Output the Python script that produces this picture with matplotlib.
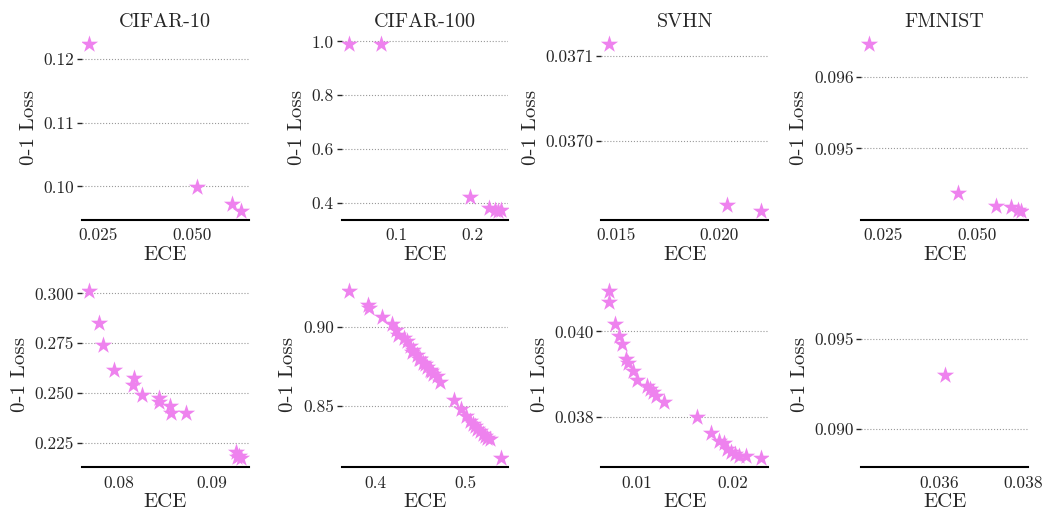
import matplotlib
matplotlib.use("Agg")
from matplotlib import pyplot as plt

plt.rcParams['font.family'] = 'cmr10'
plt.rcParams['mathtext.fontset'] = 'cm'
plt.rcParams['axes.formatter.use_mathtext'] = True

titles = ['CIFAR-10', 'CIFAR-100', 'SVHN', 'FMNIST']

# top row
c10_ece = [0.0228, 0.0514, 0.0606, 0.0629]
c10_loss = [0.1224, 0.0999, 0.0972, 0.0961]
c100_ece = [0.0379, 0.0798, 0.197, 0.222, 0.233, 0.237, 0.229]
c100_loss = [0.992, 0.992, 0.421, 0.381, 0.369, 0.372, 0.375]
svhn_ece = [0.01464, 0.02039, 0.02203]
svhn_loss = [0.037114, 0.036925, 0.036918]
fm_ece = [0.0211, 0.0450, 0.0553, 0.0593, 0.0611, 0.0618]
fm_loss = [0.09647, 0.09438, 0.09419, 0.09418, 0.09414, 0.09412]

# bottom row
c10b_ece = [0.0768, 0.0778, 0.0783, 0.0795, 0.0816, 0.0815, 0.0825, 0.0843, 0.0843,
            0.0855, 0.0856, 0.0872, 0.0926, 0.0929, 0.0931, 0.0927]
c10b_loss = [0.3013, 0.2850, 0.2738, 0.2613, 0.2575, 0.2537, 0.2487, 0.2475, 0.2453,
             0.2433, 0.2397, 0.2397, 0.2203, 0.2183, 0.2170, 0.2175]
c100b_ece = [0.3704, 0.3911, 0.3930, 0.4074, 0.4185, 0.4222, 0.4252, 0.4315, 0.4344,
             0.4381, 0.4419, 0.4456, 0.4493, 0.4530, 0.4567, 0.4604, 0.4641, 0.4678,
             0.4715, 0.4874, 0.4948, 0.5000, 0.5048, 0.5104, 0.5159, 0.5215, 0.5270,
             0.5393, 0.4400, 0.4480, 0.4550, 0.4620, 0.5080, 0.5130, 0.5190, 0.5240]
c100b_loss = [0.9231, 0.9141, 0.9120, 0.9067, 0.9021, 0.8983, 0.8952, 0.8931, 0.8910,
              0.8882, 0.8857, 0.8826, 0.8798, 0.8773, 0.8748, 0.8731, 0.8706, 0.8689,
              0.8651, 0.8536, 0.8479, 0.8437, 0.8406, 0.8374, 0.8343, 0.8311, 0.8290,
              0.8168, 0.8840, 0.8800, 0.8765, 0.8720, 0.8385, 0.8355, 0.8325, 0.8300]
svhnb_ece = [0.00715, 0.00715, 0.00778, 0.00819, 0.00847, 0.00896, 0.00917, 0.00965,
             0.01010, 0.01115, 0.01139, 0.01174, 0.01201, 0.01288, 0.01635, 0.01774,
             0.01861, 0.01913, 0.01948, 0.01983, 0.02028, 0.02069, 0.02139, 0.02295]
svhnb_loss = [0.040946, 0.040677, 0.040162, 0.039885, 0.039715, 0.039346, 0.039269,
              0.039085, 0.038869, 0.038715, 0.038654, 0.038577, 0.038485, 0.038346,
              0.038008, 0.037623, 0.037446, 0.037408, 0.037269, 0.037192, 0.037138,
              0.037100, 0.037085, 0.037038]
fmb_ece = [0.03612]
fmb_loss = [0.09301]

data = [
    (c10_ece, c10_loss, [0.025, 0.050], [0.10, 0.11, 0.12]),
    (c100_ece, c100_loss, [0.1, 0.2], [0.4, 0.6, 0.8, 1.0]),
    (svhn_ece, svhn_loss, [0.015, 0.020], [0.0370, 0.0371]),
    (fm_ece, fm_loss, [0.025, 0.050], [0.095, 0.096]),
    (c10b_ece, c10b_loss, [0.08, 0.09], [0.225, 0.250, 0.275, 0.300]),
    (c100b_ece, c100b_loss, [0.4, 0.5], [0.85, 0.90]),
    (svhnb_ece, svhnb_loss, [0.01, 0.02], [0.038, 0.040]),
    (fmb_ece, fmb_loss, [0.036, 0.038], [0.090, 0.095]),
]
xfmt = ['%.3f', '%.1f', '%.3f', '%.3f', '%.2f', '%.1f', '%.2f', '%.3f']
yfmt = ['%.2f', '%.1f', '%.4f', '%.3f', '%.3f', '%.2f', '%.3f', '%.3f']

fig, axes = plt.subplots(2, 4, figsize=(10.47, 5.17), dpi=100)
plt.subplots_adjust(left=0.078, right=0.982, top=0.932, bottom=0.097,
                    wspace=0.557, hspace=0.34)

text_col = '#262626'
for i, ax in enumerate(axes.flat):
    xs, ys, xt, yt = data[i]
    ax.scatter(xs, ys, marker='*', s=170, color='violet', linewidths=0, zorder=3)
    ax.set_xticks(xt)
    ax.set_yticks(yt)
    ax.set_xticklabels([xfmt[i] % v for v in xt])
    ax.set_yticklabels([yfmt[i] % v for v in yt])
    ax.grid(True, axis='y', linestyle=':', color='#999999', linewidth=0.8)
    ax.set_axisbelow(True)
    for s in ['top', 'right', 'left']:
        ax.spines[s].set_visible(False)
    ax.spines['bottom'].set_linewidth(1.5)
    ax.spines['bottom'].set_color('black')
    ax.tick_params(axis='x', length=0, labelsize=12.5, labelcolor=text_col, pad=6)
    ax.tick_params(axis='y', length=3.5, width=1, labelsize=12.5, labelcolor=text_col,
                   color=text_col, pad=2)
    ax.set_xlabel('ECE', fontsize=15, color=text_col, labelpad=2)
    ax.set_ylabel('0-1 Loss', fontsize=15, color=text_col, labelpad=4)
    if i < 4:
        ax.set_title(titles[i], fontsize=14.5, color=text_col, pad=6)

plt.savefig('out.png', dpi=100)
plt.close()
